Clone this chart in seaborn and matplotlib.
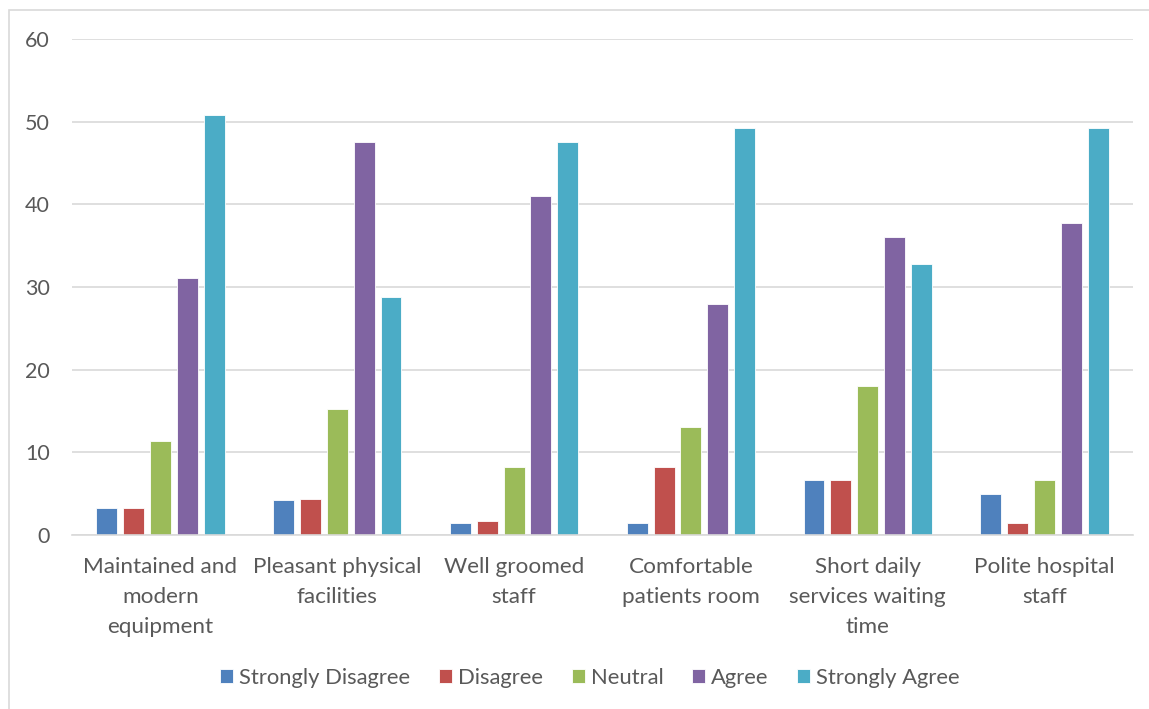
import matplotlib
matplotlib.use("Agg")
import matplotlib.pyplot as plt
import seaborn as sns
import pandas as pd
from matplotlib.patches import Rectangle

categories = ["Maintained and\nmodern\nequipment", "Pleasant physical\nfacilities",
              "Well groomed\nstaff", "Comfortable\npatients room",
              "Short daily\nservices waiting\ntime", "Polite hospital\nstaff"]
series_names = ["Strongly Disagree", "Disagree", "Neutral", "Agree", "Strongly Agree"]
strongly_disagree = [3.3, 4.2, 1.4, 1.5, 6.6, 4.9]
disagree = [3.3, 4.3, 1.7, 8.2, 6.6, 1.5]
neutral = [11.4, 15.2, 8.2, 13.1, 18.0, 6.6]
agree = [31.1, 47.5, 41.0, 27.9, 36.1, 37.7]
strongly_agree = [50.8, 28.8, 47.5, 49.2, 32.8, 49.2]
y_ticks = [0, 10, 20, 30, 40, 50, 60]

colors = ["#4F81BD", "#C0504D", "#9BBB59", "#8064A2", "#4BACC6"]

rows = []
for name, vals in zip(series_names, [strongly_disagree, disagree, neutral, agree, strongly_agree]):
    for c, v in zip(categories, vals):
        rows.append({"category": c, "series": name, "value": v})
df = pd.DataFrame(rows)

sns.set_style("white")
plt.rcParams["font.family"] = ["Lato", "DejaVu Sans"]
text_color = "#595959"

fig = plt.figure(figsize=(11.49, 7.09), dpi=100)
ax = fig.add_axes([72 / 1149, 1 - 535 / 709, (1133 - 72) / 1149, (535 - 39) / 709])

sns.barplot(data=df, x="category", y="value", hue="series", order=categories,
            hue_order=series_names, palette=colors, width=0.76, gap=0.22,
            saturation=1, ax=ax, legend=True, edgecolor="white", linewidth=0.6)

ax.set_ylim(0, 60)
ax.set_xlim(-0.5, len(categories) - 0.5)
ax.set_yticks(y_ticks)
ax.set_yticklabels([str(t) for t in y_ticks])
ax.yaxis.grid(True, color="#D9D9D9", linewidth=1.2)
ax.set_axisbelow(True)
for s in ["top", "right", "left"]:
    ax.spines[s].set_visible(False)
ax.spines["bottom"].set_color("#D9D9D9")
ax.spines["bottom"].set_linewidth(1.2)
ax.tick_params(axis="both", length=0, colors=text_color)
ax.tick_params(axis="y", pad=16, labelsize=15.5)
ax.tick_params(axis="x", pad=16, labelsize=16.2)
for lbl in ax.get_xticklabels():
    lbl.set_linespacing(1.62)
ax.set_xlabel("")
ax.set_ylabel("")

handles, labels = ax.get_legend_handles_labels()
ax.legend_.remove()
fig.legend(handles, labels, loc="center", bbox_to_anchor=(590 / 1149, 1 - 678 / 709),
           ncol=5, frameon=False, fontsize=15.8, handlelength=0.6, handleheight=0.6,
           handletextpad=0.27, columnspacing=1.3, labelcolor=text_color)

fig.patches.append(Rectangle((9 / 1149, -0.1), 1.2, 1 - 10 / 709 + 0.1,
                             transform=fig.transFigure, fill=False,
                             edgecolor="#D9D9D9", linewidth=1.2, figure=fig))

fig.savefig("out.png", dpi=100, facecolor="white")
